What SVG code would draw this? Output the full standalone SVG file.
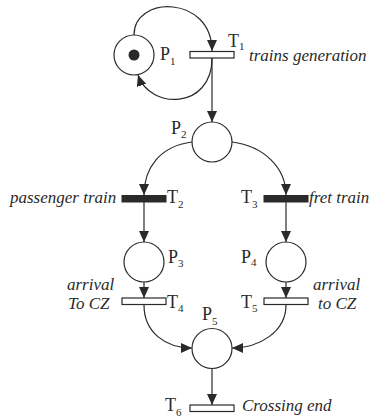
<svg xmlns="http://www.w3.org/2000/svg" width="369" height="418" viewBox="0 0 369 418">
<defs>
<marker id="ah" viewBox="0 0 11 10" refX="11" refY="5" markerWidth="11" markerHeight="10" markerUnits="userSpaceOnUse" orient="auto">
<path d="M0,0 L11,5 L0,10 z" fill="#2a2a2a"/>
</marker>
</defs>
<style>
.pl{fill:#fff;stroke:#2a2a2a;stroke-width:1.2}
.te{fill:#fff;stroke:#2a2a2a;stroke-width:1.2}
.tf{fill:#2a2a2a;stroke:#2a2a2a;stroke-width:1}
.c{fill:none;stroke:#2a2a2a;stroke-width:1.2;marker-end:url(#ah)}
.lb{font-family:"Liberation Serif","Times New Roman",serif;font-size:18px;fill:#2a2a2a}
.sb{font-size:11px}
.it{font-family:"Liberation Serif","Times New Roman",serif;font-size:17px;font-style:italic;fill:#2a2a2a}
</style>
<rect width="369" height="418" fill="#fff"/>
<g id="connectors">
<path class="c" d="M134,35 C134,-5 212,-5 212,51"/>
<path class="c" d="M212,58 C212,110 150,110 138,75"/>
<path class="c" d="M212,58 L212,122"/>
<path class="c" d="M192,142 C160,146 144,168 144,195"/>
<path class="c" d="M232,142 C264,146 286,168 286,195"/>
<path class="c" d="M144,202 L144,242"/>
<path class="c" d="M286,202 L286,242"/>
<path class="c" d="M144,282 L144,298"/>
<path class="c" d="M286,282 L286,298"/>
<path class="c" d="M144,305 C144,332 165,348 192,348"/>
<path class="c" d="M286,305 C286,332 259,348 232,348"/>
<path class="c" d="M212,368 L212,405"/>
</g>
<g id="P1">
<circle class="pl" cx="134" cy="55" r="20"/>
<circle cx="134" cy="55" r="5.5" fill="#2a2a2a"/>
<text class="lb" x="160" y="60">P<tspan class="sb" dy="5">1</tspan></text>
</g>
<g id="T1">
<rect class="te" x="190" y="51.5" width="44" height="6.5"/>
<text class="lb" x="228" y="46.5">T<tspan class="sb" dy="3">1</tspan></text>
<text class="it" x="249" y="61">trains generation</text>
</g>
<g id="P2">
<circle class="pl" cx="212" cy="142" r="20"/>
<text class="lb" x="171" y="134">P<tspan class="sb" dy="4">2</tspan></text>
</g>
<g id="T2">
<rect class="tf" x="122" y="195.5" width="44" height="6.5"/>
<text class="lb" x="167" y="203">T<tspan class="sb" dy="5">2</tspan></text>
<text class="it" x="10" y="203">passenger train</text>
</g>
<g id="T3">
<rect class="tf" x="264" y="195.5" width="44" height="6.5"/>
<text class="lb" x="241" y="203">T<tspan class="sb" dy="5">3</tspan></text>
<text class="it" x="309" y="203">fret train</text>
</g>
<g id="P3">
<circle class="pl" cx="144" cy="262" r="20"/>
<text class="lb" x="168" y="263">P<tspan class="sb" dy="4">3</tspan></text>
</g>
<g id="P4">
<circle class="pl" cx="286" cy="262" r="20"/>
<text class="lb" x="241" y="263">P<tspan class="sb" dy="3">4</tspan></text>
</g>
<g id="T4">
<rect class="te" x="122" y="298" width="44" height="6.5"/>
<text class="lb" x="167" y="308">T<tspan class="sb" dy="4">4</tspan></text>
<text class="it" x="67" y="290">arrival</text>
<text class="it" x="68" y="309">To CZ</text>
</g>
<g id="T5">
<rect class="te" x="264" y="298" width="44" height="6.5"/>
<text class="lb" x="241" y="308">T<tspan class="sb" dy="4">5</tspan></text>
<text class="it" x="313" y="290">arrival</text>
<text class="it" x="318" y="309">to CZ</text>
</g>
<g id="P5">
<circle class="pl" cx="212" cy="348.5" r="20"/>
<text class="lb" x="202" y="320">P<tspan class="sb" dy="5">5</tspan></text>
</g>
<g id="T6">
<rect class="te" x="190" y="405" width="44" height="6.5"/>
<text class="lb" x="165" y="411">T<tspan class="sb" dy="5">6</tspan></text>
<text class="it" x="242" y="411">Crossing end</text>
</g>
</svg>
